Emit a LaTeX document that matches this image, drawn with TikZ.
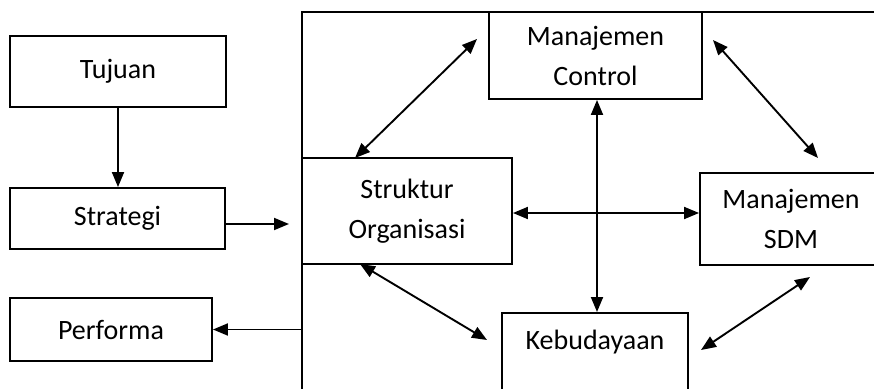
\documentclass[tikz,border=0pt]{standalone}
\usepackage{fontspec}
\setmainfont{Carlito}
\usetikzlibrary{arrows.meta,calc}
\begin{document}
\begin{tikzpicture}[x=1pt,y=-1pt,
  box/.style={draw, line width=1.9pt, inner sep=0pt, align=center, font=\fontsize{28}{40}\selectfont},
  txt/.style={inner sep=0pt, font=\fontsize{28}{40}\selectfont},
  conn/.style={line width=1.9pt, -{Triangle[length=15pt,width=12pt]}},
  dconn/.style={line width=1.9pt, {Triangle[length=15pt,width=12pt]}-{Triangle[length=15pt,width=12pt]}}]
\useasboundingbox (0,0) rectangle (874,388);
\clip (0,0) rectangle (874,388);
% left column
\node[box, minimum width=216pt, minimum height=71pt] (tuj) at (118,71.5) {Tujuan};
\node[box, minimum width=215pt, minimum height=61pt] (str) at (117.5,218.5) {Strategi};
\node[box, minimum width=202pt, minimum height=63pt] (perf) at (111,329.5) {Performa};
% big frame
\node[draw, line width=1.9pt, minimum width=600pt, minimum height=390pt, inner sep=0pt] (frame) at (602,207) {};
% inner boxes
\node[box, minimum width=213pt, minimum height=87pt] (ctl) at (595.5,55.5) {Manajemen\\Control};
\node[box, minimum width=210pt, minimum height=106pt] (struk) at (407,211) {Struktur\\Organisasi};
\node[box, minimum width=182pt, minimum height=92pt] (sdm) at (791,219) {Manajemen\\SDM};
\node[box, minimum width=186pt, minimum height=90pt, anchor=north] (keb) at (595,312) {};
\node[txt] (kebt) at (595,342) {Kebudayaan};
% connector end points
\coordinate (strout) at (289,224);
\coordinate (a1) at (355,158);
\coordinate (a2) at (477,39);
\coordinate (b1) at (713,40);
\coordinate (b2) at (818,158);
\coordinate (c1) at (360,264);
\coordinate (c2) at (487,340);
\coordinate (d1) at (810,277);
\coordinate (d2) at (701,350);
% connectors
\draw[conn] (tuj.south) -- (tuj.south |- str.north);
\draw[conn] (str.east |- strout) -- (strout);
\draw[conn] (frame.west |- perf.east) -- (perf.east);
\draw[dconn] (a1) -- (a2);
\draw[dconn] (b1) -- (b2);
\draw[dconn] (c1) -- (c2);
\draw[dconn] (d1) -- (d2);
\draw[dconn] (597,0 |- ctl.south) -- (597,0 |- keb.north);
\draw[dconn] (struk.east |- 0,213) -- (sdm.west |- 0,213);
\end{tikzpicture}
\end{document}
